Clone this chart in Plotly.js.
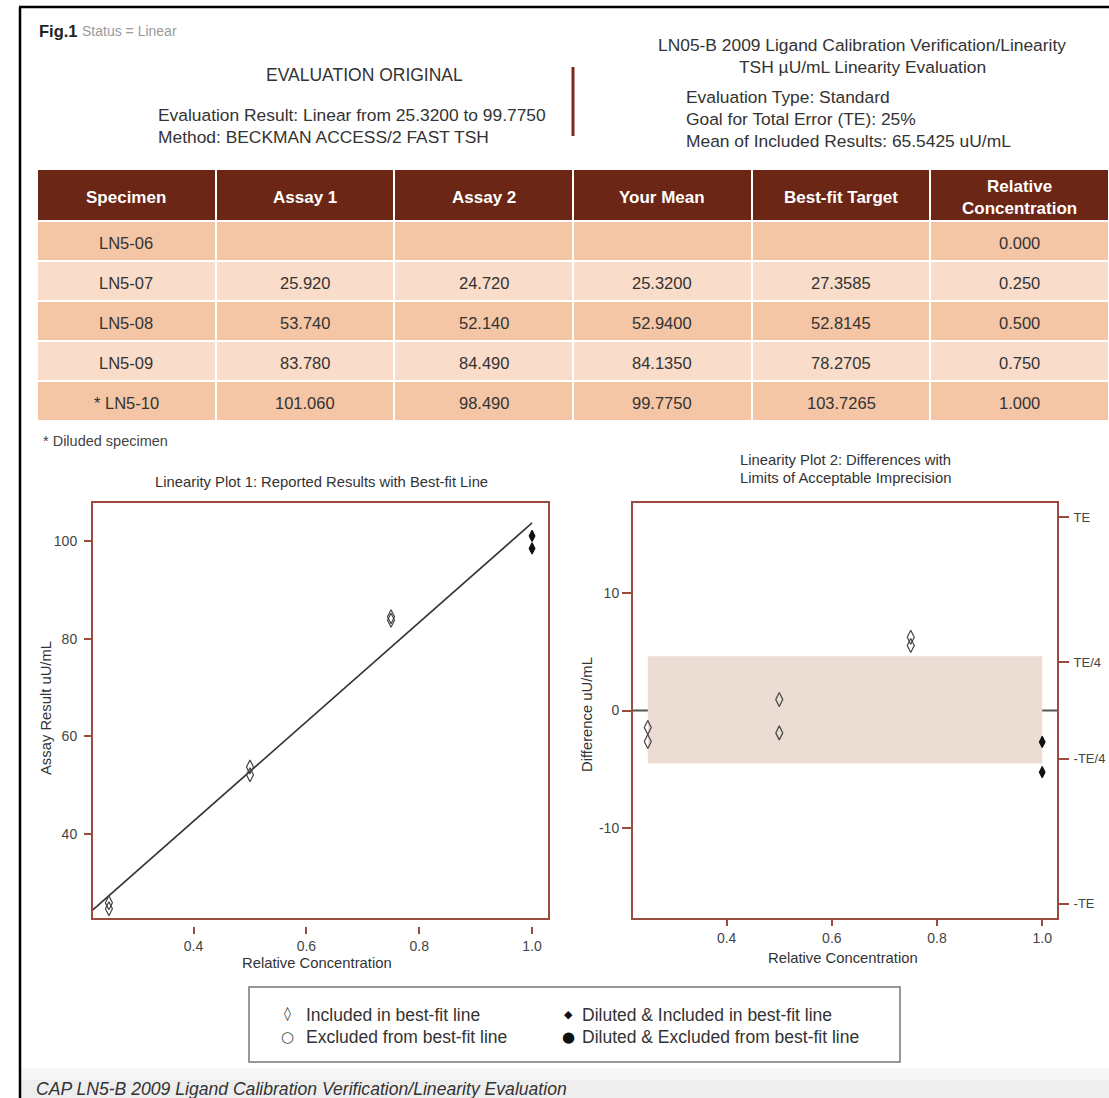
<!DOCTYPE html>
<html>
<head>
<meta charset="utf-8">
<script src="https://cdn.plot.ly/plotly-3.0.1.min.js"></script>
<style>html,body{margin:0;padding:0;background:#fff;}#chart{width:1109px;height:1098px;}</style>
</head>
<body>
<div id="chart"></div>
<script>
// ---------------- data ----------------
const columns = ['Specimen', 'Assay 1', 'Assay 2', 'Your Mean', 'Best-fit Target', 'Relative<br>Concentration'];
const specimens = ['LN5-06', 'LN5-07', 'LN5-08', 'LN5-09', '* LN5-10'];
const assay1 = [null, 25.920, 53.740, 83.780, 101.060];
const assay2 = [null, 24.720, 52.140, 84.490, 98.490];
const yourMean = [null, 25.3200, 52.9400, 84.1350, 99.7750];
const bestFit = [null, 27.3585, 52.8145, 78.2705, 103.7265];
const relConc = [0.000, 0.250, 0.500, 0.750, 1.000];
const diluted = [false, false, false, false, true];
const diff1 = [null, -1.44, 0.93, 6.22, -2.67];
const diff2 = [null, -2.64, -1.90, 5.51, -5.24];
const meanIncluded = 65.5425;
const teGoal = 0.25;
const teLabels = ['TE', 'TE/4', '-TE/4', '-TE'];
const teFactors = [1, 0.25, -0.25, -1];
const band = [-4.5, 4.6];
const yTicks1 = [40, 60, 80, 100];
const yTicks2 = [-10, 0, 10];
const xTicks = [0.4, 0.6, 0.8, 1.0];

// ---------------- helpers ----------------
const W = 1109, H = 1098;
const px = x => x / W;
const py = y => 1 - y / H;
const brown = '#9a4b3e';
const txt = '#333333';
const FONT = 'Liberation Sans, Arial, Helvetica, sans-serif';
const fmt = (v, d) => v === null ? '' : v.toFixed(d);

// ---------------- table ----------------
const tblLeft = 37, tblRight = 1109, tblTop = 169, headH = 52, rowH = 40;
const rowColors = ['#f4c6a5', '#f9dcc9', '#f4c6a5', '#f9dcc9', '#f4c6a5'];
const cellText = [
  specimens,
  assay1.map(v => fmt(v, 3)),
  assay2.map(v => fmt(v, 3)),
  yourMean.map(v => fmt(v, 4)),
  bestFit.map(v => fmt(v, 4)),
  relConc.map(v => fmt(v, 3))
];
// table trace draws the cells (fills and white rules); text is placed centred in each cell below
const table = {
  type: 'table',
  domain: {x: [px(tblLeft), 1], y: [py(440), py(tblTop)]},
  columnwidth: columns.map(() => 1),
  header: {
    values: columns.map(() => ''),
    height: headH,
    fill: {color: '#6b2616'},
    line: {color: '#ffffff', width: 2}
  },
  cells: {
    values: cellText.map(col => col.map(() => '')),
    height: rowH,
    fill: {color: columns.map(() => rowColors)},
    line: {color: '#ffffff', width: 2}
  }
};

// ---------------- plots ----------------
const idx = [1, 2, 3, 4];
const xRange = [0.22, 1.03];
const open1 = idx.filter(i => !diluted[i]);
const fill1 = idx.filter(i => diluted[i]);
const pick = (arr, ids) => ids.map(i => arr[i]);
const slope = (bestFit[4] - bestFit[1]) / (relConc[4] - relConc[1]);
const fitX = [xRange[0]].concat(pick(relConc, idx));
const fitY = fitX.map(x => bestFit[1] + slope * (x - relConc[1]));

const mk = (filled) => ({
  symbol: filled ? 'diamond-tall' : 'diamond-tall-open',
  size: filled ? 8 : 10,
  color: filled ? '#111111' : '#444444',
  line: {color: filled ? '#111111' : '#444444', width: 1.2}
});

const traces = [table,
  {type: 'scatter', mode: 'lines', x: fitX, y: fitY, xaxis: 'x', yaxis: 'y',
   line: {color: '#333333', width: 1.6}, hoverinfo: 'skip', showlegend: false},
  {type: 'scatter', mode: 'markers', xaxis: 'x', yaxis: 'y',
   x: pick(relConc, open1).concat(pick(relConc, open1)),
   y: pick(assay1, open1).concat(pick(assay2, open1)),
   marker: mk(false), showlegend: false},
  {type: 'scatter', mode: 'markers', xaxis: 'x', yaxis: 'y',
   x: pick(relConc, fill1).concat(pick(relConc, fill1)),
   y: pick(assay1, fill1).concat(pick(assay2, fill1)),
   marker: mk(true), showlegend: false},
  {type: 'scatter', mode: 'markers', xaxis: 'x2', yaxis: 'y2',
   x: pick(relConc, open1).concat(pick(relConc, open1)),
   y: pick(diff1, open1).concat(pick(diff2, open1)),
   marker: mk(false), showlegend: false},
  {type: 'scatter', mode: 'markers', xaxis: 'x2', yaxis: 'y2',
   x: pick(relConc, fill1).concat(pick(relConc, fill1)),
   y: pick(diff1, fill1).concat(pick(diff2, fill1)),
   marker: mk(true), showlegend: false},
  {type: 'scatter', mode: 'markers', xaxis: 'x2', yaxis: 'y3',
   x: [null], y: [null], showlegend: false, hoverinfo: 'skip'}
];

const te = meanIncluded * teGoal;
const yLim2 = te * 1.08;

const tickFont = {family: FONT, size: 14, color: '#444444'};
const plotTop = 502, plotBot = 919;

const layout = {
  width: W, height: H,
  margin: {l: 0, r: 0, t: 0, b: 0},
  paper_bgcolor: '#ffffff', plot_bgcolor: '#ffffff',
  showlegend: false,
  font: {family: FONT, color: txt},
  xaxis: {
    domain: [px(92), px(549)], range: xRange, anchor: 'free', position: py(926),
    showline: false, showgrid: false, zeroline: false,
    tickvals: xTicks, ticktext: xTicks.map(v => v.toFixed(1)),
    ticks: 'outside', ticklen: 7, tickwidth: 2, tickcolor: brown, tickfont: tickFont
  },
  yaxis: {
    domain: [py(plotBot), py(plotTop)], range: [22.6, 108], anchor: 'x',
    showline: false, showgrid: false, zeroline: false,
    tickvals: yTicks1, ticktext: yTicks1.map(String), ticklabelstandoff: 4,
    ticks: 'outside', ticklen: 7, tickwidth: 2, tickcolor: brown, tickfont: tickFont
  },
  xaxis2: {
    domain: [px(632), px(1058)], range: xRange, anchor: 'y2',
    showline: false, showgrid: false, zeroline: false,
    tickvals: xTicks, ticktext: xTicks.map(v => v.toFixed(1)),
    ticks: 'outside', ticklen: 6, tickwidth: 2, tickcolor: brown, tickfont: tickFont
  },
  yaxis2: {
    domain: [py(plotBot), py(plotTop)], range: [-yLim2, yLim2], anchor: 'x2',
    showline: false, showgrid: false, zeroline: false,
    tickvals: yTicks2, ticktext: yTicks2.map(String),
    ticks: 'outside', ticklen: 9, tickwidth: 2, tickcolor: brown, tickfont: tickFont
  },
  yaxis3: {
    overlaying: 'y2', side: 'right', anchor: 'x2', range: [-yLim2, yLim2],
    showline: false, showgrid: false, zeroline: false,
    tickvals: teFactors.map(f => f * te), ticktext: teLabels, ticklabelstandoff: 2,
    ticks: 'outside', ticklen: 10, tickwidth: 2, tickcolor: brown,
    tickfont: {family: FONT, size: 13, color: '#444444'}
  },
  shapes: [
    {type: 'line', xref: 'paper', yref: 'paper', x0: px(20), x1: px(20), y0: py(7), y1: 0, line: {color: '#000', width: 2.5}},
    {type: 'line', xref: 'paper', yref: 'paper', x0: px(19), x1: 1, y0: py(7), y1: py(7), line: {color: '#000', width: 2.5}},
    {type: 'line', xref: 'paper', yref: 'paper', x0: px(573), x1: px(573), y0: py(67), y1: py(136), line: {color: '#7b2a1a', width: 3}},
    {type: 'rect', xref: 'x2', yref: 'y2', x0: relConc[1], x1: relConc[4], y0: band[0], y1: band[1], fillcolor: '#ebddd3', line: {width: 0}, layer: 'below'},
    {type: 'line', xref: 'x2 domain', yref: 'y2', x0: 0, x1: 1, y0: 0, y1: 0, line: {color: '#555555', width: 2}, layer: 'below'},
    {type: 'rect', xref: 'x domain', yref: 'y domain', x0: 0, x1: 1, y0: 0, y1: 1, line: {color: brown, width: 2}},
    {type: 'rect', xref: 'x2 domain', yref: 'y2 domain', x0: 0, x1: 1, y0: 0, y1: 1, line: {color: brown, width: 2}},
    {type: 'rect', xref: 'paper', yref: 'paper', x0: px(249), x1: px(900), y0: py(1062), y1: py(987), line: {color: '#777777', width: 1.5}},
    {type: 'rect', xref: 'paper', yref: 'paper', x0: px(21), x1: 1, y0: py(1080), y1: py(1068), fillcolor: '#f7f7f7', line: {width: 0}, layer: 'below'},
    {type: 'rect', xref: 'paper', yref: 'paper', x0: px(21), x1: 1, y0: 0, y1: py(1080), fillcolor: '#eeeeee', line: {width: 0}, layer: 'below'}
  ],
  annotations: []
};

function ann(text, x, y, opts) {
  layout.annotations.push(Object.assign({
    text: text, xref: 'paper', yref: 'paper', x: px(x), y: py(y),
    xanchor: 'left', yanchor: 'middle', showarrow: false,
    font: {family: FONT, size: 17.4, color: txt}
  }, opts || {}));
}
const f = (size, color) => ({family: FONT, size: size, color: color || txt});

// table text, centred in each cell
const colW = (tblRight - tblLeft) / columns.length;
columns.forEach((c, ci) => {
  const cx = tblLeft + colW * (ci + 0.5);
  ann('<b>' + c + '</b>', cx, tblTop + headH / 2 + 2, {xanchor: 'center', font: f(17, '#ffffff')});
  cellText[ci].forEach((s, ri) => {
    if (s !== '') ann(s, cx, tblTop + headH + 2 + rowH * (ri + 0.5), {xanchor: 'center', font: f(16.5)});
  });
});

ann('<b>Fig.1</b>', 37, 31, {font: f(16.5, '#222')});
ann('Status = Linear', 80, 31, {font: f(14, '#9a9a9a')});
ann('EVALUATION ORIGINAL', 364, 75, {xanchor: 'center', font: f(17.5)});
ann('Evaluation Result: Linear from 25.3200 to 99.7750', 156, 115);
ann('Method: BECKMAN ACCESS/2 FAST TSH', 156, 137);
ann('LN05-B 2009 Ligand Calibration Verification/Linearity', 862, 45, {xanchor: 'center'});
ann('TSH \u00b5U/mL Linearity Evaluation', 862, 67, {xanchor: 'center'});
ann('Evaluation Type: Standard', 684, 97);
ann('Goal for Total Error (TE): 25%', 684, 119);
ann('Mean of Included Results: 65.5425 uU/mL', 684, 141);
ann('* Diluded specimen', 41, 441, {font: f(14.5, '#444')});

ann('Linearity Plot 1: Reported Results with Best-fit Line', 321, 482, {xanchor: 'center', font: f(14.8)});
ann('Linearity Plot 2: Differences with', 845, 460, {xanchor: 'center', font: f(14.8)});
ann('Limits of Acceptable Imprecision', 845, 478, {xanchor: 'center', font: f(14.8)});
ann('Relative Concentration', 317, 963, {xanchor: 'center', font: f(14.8)});
ann('Relative Concentration', 843, 958, {xanchor: 'center', font: f(14.8)});
ann('Assay Result uU/mL', 46, 708, {xanchor: 'center', textangle: -90, font: f(14.8)});
ann('Difference uU/mL', 587, 715, {xanchor: 'center', textangle: -90, font: f(14.8)});

// legend
ann('\u25CA', 287, 1013, {xanchor: 'center', font: {family: 'DejaVu Sans', size: 14, color: '#444'}});
ann('Included in best-fit line', 304, 1015, {font: f(17.5)});
ann('\u25CB', 287, 1037, {xanchor: 'center', font: {family: 'DejaVu Sans', size: 15, color: '#444'}});
ann('Excluded from best-fit line', 304, 1037, {font: f(17.5)});
ann('\u25C6', 568, 1014, {xanchor: 'center', font: {family: 'DejaVu Sans', size: 11, color: '#111'}});
ann('Diluted &amp; Included in best-fit line', 580, 1015, {font: f(17.5)});
ann('\u25CF', 568, 1037, {xanchor: 'center', font: {family: 'DejaVu Sans', size: 15, color: '#111'}});
ann('Diluted &amp; Excluded from best-fit line', 580, 1037, {font: f(17.5)});

ann('<i>CAP LN5-B 2009 Ligand Calibration Verification/Linearity Evaluation</i>', 34, 1089, {font: f(17.6)});

Plotly.newPlot('chart', traces, layout, {displayModeBar: false, staticPlot: true});
</script>
</body>
</html>
